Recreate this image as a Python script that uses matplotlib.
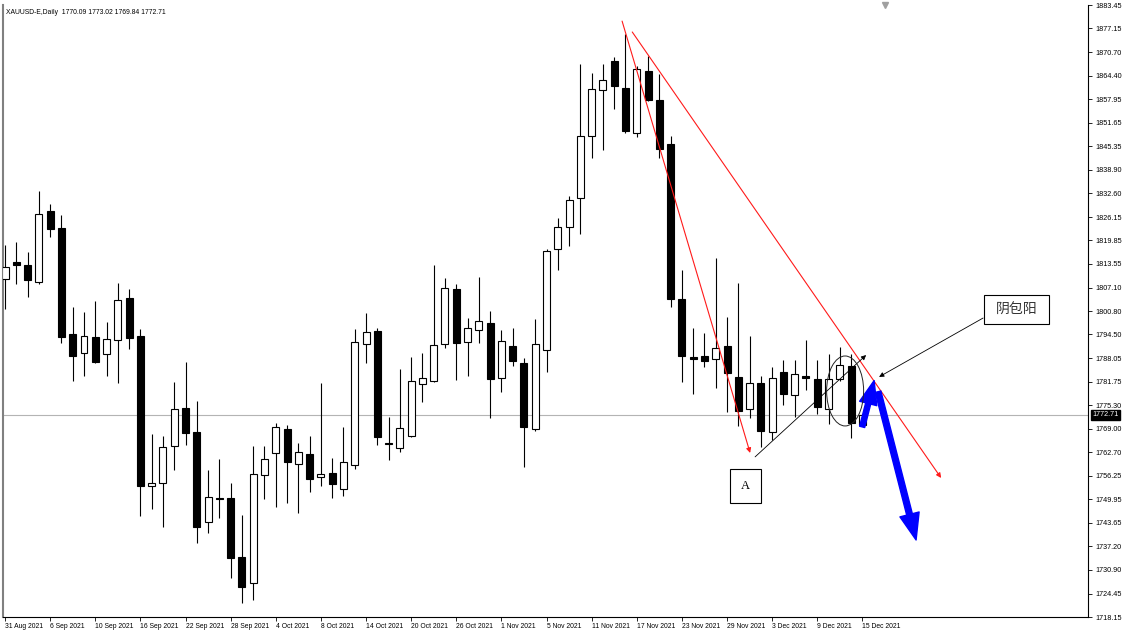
import matplotlib
matplotlib.use("Agg")
from matplotlib import pyplot as plt
from matplotlib.patches import Ellipse, Rectangle
import numpy as np

plt.rcParams['font.family'] = ['Liberation Sans', 'DejaVu Sans']

symbol_header = "XAUUSD-E,Daily  1770.09 1773.02 1769.84 1772.71"
last_price = 1772.71

opens = [1809.5, 1814.0, 1813.2, 1808.6, 1827.8, 1823.2, 1794.6, 1789.5, 1793.8, 1789.2,
         1793.0, 1804.3, 1794.1, 1753.5, 1754.3, 1764.3, 1774.6, 1768.1, 1743.8, 1750.2,
         1750.3, 1734.4, 1727.3, 1756.5, 1762.4, 1768.9, 1759.5, 1762.2, 1756.0, 1757.1,
         1752.7, 1759.2, 1791.9, 1795.4, 1765.2, 1763.8, 1767.0, 1781.1, 1781.9, 1791.9,
         1806.7, 1792.4, 1795.7, 1797.6, 1782.7, 1791.4, 1786.8, 1768.9, 1790.3, 1817.5,
         1823.5, 1831.3, 1848.1, 1860.5, 1868.3, 1861.0, 1848.9, 1865.6, 1857.8, 1845.9,
         1804.0, 1788.4, 1788.6, 1787.8, 1791.4, 1782.9, 1774.3, 1781.4, 1768.1, 1784.3,
         1778.1, 1783.2, 1782.4, 1774.3, 1782.4, 1785.9, 1770.09]
highs = [1818.6, 1819.5, 1816.7, 1833.2, 1829.7, 1826.7, 1801.9, 1800.5, 1803.5, 1797.8,
         1808.4, 1806.7, 1795.9, 1767.6, 1767.0, 1781.6, 1787.0, 1776.5, 1757.9, 1760.8,
         1754.3, 1745.7, 1764.3, 1764.3, 1770.5, 1770.0, 1765.1, 1767.0, 1781.4, 1761.1,
         1769.5, 1795.9, 1800.3, 1796.2, 1772.2, 1785.1, 1788.4, 1789.5, 1813.2, 1809.7,
         1808.1, 1798.9, 1810.0, 1800.8, 1795.7, 1796.2, 1788.1, 1798.6, 1817.5, 1825.9,
         1831.9, 1867.5, 1865.1, 1867.5, 1869.4, 1875.6, 1867.0, 1869.7, 1864.8, 1848.1,
         1811.9, 1796.2, 1794.9, 1815.1, 1799.2, 1808.4, 1794.1, 1783.2, 1785.7, 1787.6,
         1787.6, 1793.0, 1787.6, 1789.2, 1791.1, 1789.2, 1773.02]
lows = [1801.3, 1808.1, 1804.6, 1808.0, 1820.8, 1792.2, 1781.9, 1783.2, 1786.8, 1783.2,
        1781.4, 1790.5, 1745.4, 1747.3, 1742.5, 1757.9, 1764.6, 1738.1, 1740.8, 1744.9,
        1728.7, 1721.9, 1722.7, 1750.0, 1747.9, 1749.0, 1746.3, 1751.9, 1753.5, 1750.3,
        1750.8, 1758.1, 1786.8, 1764.6, 1760.6, 1762.7, 1766.8, 1776.2, 1781.7, 1790.8,
        1782.2, 1783.2, 1792.2, 1771.9, 1778.9, 1786.0, 1758.7, 1768.5, 1784.3, 1811.9,
        1818.4, 1821.6, 1842.1, 1844.3, 1855.3, 1848.9, 1847.8, 1857.5, 1842.1, 1801.9,
        1781.6, 1778.4, 1785.7, 1780.0, 1773.5, 1769.7, 1771.9, 1764.1, 1765.9, 1775.4,
        1772.2, 1779.4, 1772.9, 1770.3, 1782.0, 1766.5, 1769.84]
closes = [1812.7, 1813.3, 1809.2, 1827.0, 1823.0, 1793.8, 1788.7, 1794.1, 1787.0, 1793.2,
          1803.8, 1793.5, 1753.5, 1754.3, 1764.1, 1774.3, 1767.9, 1742.5, 1750.6, 1749.9,
          1734.1, 1726.3, 1756.8, 1760.8, 1769.5, 1760.0, 1762.7, 1755.4, 1756.8, 1754.1,
          1760.0, 1792.4, 1795.1, 1766.8, 1764.8, 1769.2, 1781.9, 1782.7, 1791.6, 1807.0,
          1792.2, 1796.2, 1798.1, 1782.4, 1792.7, 1787.3, 1769.5, 1791.9, 1817.0, 1823.5,
          1830.8, 1848.1, 1860.7, 1863.2, 1861.6, 1849.4, 1866.2, 1857.8, 1844.6, 1804.0,
          1788.6, 1787.9, 1787.3, 1790.8, 1784.0, 1773.8, 1781.4, 1768.4, 1782.7, 1778.4,
          1783.8, 1782.7, 1774.9, 1782.4, 1786.2, 1770.5, 1772.71]

date_tick_bars = [0, 4, 8, 12, 16, 20, 24, 28, 32, 36, 40, 44, 48, 52, 56, 60, 64, 68, 72, 76]
date_labels = ["31 Aug 2021", "6 Sep 2021", "10 Sep 2021", "16 Sep 2021", "22 Sep 2021",
               "28 Sep 2021", "4 Oct 2021", "8 Oct 2021", "14 Oct 2021", "20 Oct 2021",
               "26 Oct 2021", "1 Nov 2021", "5 Nov 2021", "11 Nov 2021", "17 Nov 2021",
               "23 Nov 2021", "29 Nov 2021", "3 Dec 2021", "9 Dec 2021", "15 Dec 2021"]
price_ticks = [1883.45, 1877.15, 1870.70, 1864.40, 1857.95, 1851.65, 1845.35, 1838.90,
               1832.60, 1826.15, 1819.85, 1813.55, 1807.10, 1800.80, 1794.50, 1788.05,
               1781.75, 1775.30, 1769.00, 1762.70, 1756.25, 1749.95, 1743.65, 1737.20,
               1730.90, 1724.45, 1718.15]

fig = plt.figure(figsize=(11.25, 6.33), dpi=100)
ax = fig.add_axes([3/1125, 16/633, 1085/1125, 612/633])

o = np.array(opens); h = np.array(highs); l = np.array(lows); c = np.array(closes)
X = np.arange(len(o))
up = c >= o

ax.axhline(last_price, color='#b4b4b4', lw=0.8, zorder=1)
ax.vlines(X, l, h, color='black', lw=0.8, zorder=2)
body_bottom = np.minimum(o, c)
body_height = np.maximum(np.abs(c - o), 0.3)
ax.bar(X, body_height, bottom=body_bottom, width=0.62,
       color=np.where(up, 'white', 'black'), edgecolor='black', linewidth=0.8, zorder=3)

ax.set_xlim(-0.18, 96.0)
ax.set_ylim(1718.15, 1883.45)

ax.yaxis.tick_right()
ax.set_yticks(price_ticks)
ax.set_yticklabels(["%.2f" % p for p in price_ticks])
ax.tick_params(axis='y', direction='out', length=3, width=0.6, pad=2, labelsize=5.2, colors='black')
ax.set_xticks(date_tick_bars)
ax.set_xticklabels(date_labels, ha='left')
ax.tick_params(axis='x', direction='out', length=3, width=0.6, pad=1.5, labelsize=4.9)

ax.spines['top'].set_visible(False)
ax.spines['left'].set_color('#808080')
ax.spines['left'].set_linewidth(1.5)
ax.spines['right'].set_linewidth(0.8)
ax.spines['bottom'].set_linewidth(0.8)

ax.text(0.003, 0.993, symbol_header, transform=ax.transAxes, fontsize=4.9, va='top', ha='left')
ax.text(1.004, last_price, "%.2f" % last_price, transform=ax.get_yaxis_transform(),
        fontsize=5.2, color='white', va='center', ha='left',
        bbox=dict(boxstyle='square,pad=0.15', fc='black', ec='black'))
ax.plot([78], [1883.45], marker='v', color='#a0a0a0', markersize=4, clip_on=False)

# trend lines
ax.annotate('', xy=(66.05, 1762.45), xytext=(54.7, 1879.1),
            arrowprops=dict(arrowstyle='-|>', color='#ff1a1a', lw=0.8, mutation_scale=7,
                            shrinkA=0, shrinkB=0))
ax.annotate('', xy=(82.98, 1755.7), xytext=(55.6, 1876.16),
            arrowprops=dict(arrowstyle='-|>', color='#ff1a1a', lw=0.8, mutation_scale=7,
                            shrinkA=0, shrinkB=0))
ax.annotate('', xy=(76.33, 1788.9), xytext=(66.49, 1761.4),
            arrowprops=dict(arrowstyle='-|>', color='black', lw=0.6, mutation_scale=7,
                            shrinkA=0, shrinkB=0))
ax.annotate('', xy=(77.48, 1783.0), xytext=(86.7, 1798.9),
            arrowprops=dict(arrowstyle='-|>', color='black', lw=0.6, mutation_scale=7,
                            shrinkA=0, shrinkB=0))
ax.add_patch(Ellipse((74.47, 1779.2), 3.28, 18.9, fill=False, ec='#222222', lw=0.7, zorder=4))

blue = 'simple,head_length=1.0,head_width=0.75,tail_width=0.22'
ax.annotate('', xy=(77.04, 1782.0), xytext=(75.98, 1769.5),
            arrowprops=dict(arrowstyle=blue, color='#0000ff', mutation_scale=17,
                            shrinkA=0, shrinkB=0))
ax.annotate('', xy=(80.76, 1738.95), xytext=(77.39, 1779.0),
            arrowprops=dict(arrowstyle=blue, color='#0000ff', mutation_scale=19,
                            shrinkA=0, shrinkB=0))

ax.add_patch(Rectangle((86.8, 1797.3), 5.7, 7.8, fc='white', ec='black', lw=0.8, zorder=4))
ax.text(89.65, 1801.2, "阴包阳", fontsize=10, color='#333333', ha='center', va='center',
        family=['Noto Sans CJK SC', 'DejaVu Sans'], zorder=5)
ax.add_patch(Rectangle((64.27, 1748.9), 2.75, 9.2, fc='white', ec='black', lw=0.8, zorder=4))
ax.text(65.65, 1753.5, "A", fontsize=9, ha='center', va='center',
        family=['Liberation Serif', 'DejaVu Serif'], zorder=5)

plt.savefig("out.png", dpi=100)
